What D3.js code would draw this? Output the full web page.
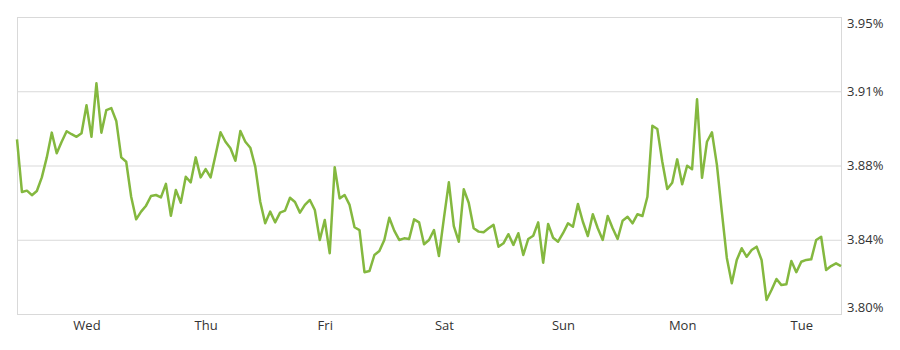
<!DOCTYPE html>
<html>
<head>
<meta charset="utf-8">
<script src="https://cdn.jsdelivr.net/npm/d3@7"></script>
<style>
  body { margin: 0; background: #fff; }
  text { font-family: "Open Sans", sans-serif; }
</style>
</head>
<body>
<div id="chart"></div>
<script>
// hourly readings, first point is 22:00 the day before "Wed"
var rates = [
  3.8882, 3.8616, 3.8623, 3.8600, 3.8621, 3.8690, 3.8791, 3.8916, 3.8812, 3.8870,
  3.8923, 3.8908, 3.8895, 3.8913, 3.9054, 3.8895, 3.9165, 3.8916, 3.9030, 3.9040,
  3.8975, 3.8791, 3.8769, 3.8592, 3.8478, 3.8517, 3.8547, 3.8596, 3.8601, 3.8589,
  3.8657, 3.8496, 3.8626, 3.8562, 3.8693, 3.8665, 3.8791, 3.8690, 3.8732, 3.8690,
  3.8803, 3.8918, 3.8870, 3.8837, 3.8774, 3.8924, 3.8870, 3.8840, 3.8744, 3.8567,
  3.8458, 3.8517, 3.8463, 3.8512, 3.8522, 3.8587, 3.8566, 3.8512, 3.8551, 3.8576,
  3.8525, 3.8374, 3.8475, 3.8307, 3.8741, 3.8584, 3.8601, 3.8551, 3.8438, 3.8424,
  3.8211, 3.8217, 3.8298, 3.8318, 3.8374, 3.8486, 3.8421, 3.8374, 3.8382, 3.8379,
  3.8478, 3.8463, 3.8352, 3.8374, 3.8424, 3.8293, 3.8483, 3.8665, 3.8444, 3.8365,
  3.8630, 3.8562, 3.8433, 3.8416, 3.8413, 3.8433, 3.8450, 3.8340, 3.8357, 3.8403,
  3.8349, 3.8408, 3.8298, 3.8379, 3.8395, 3.8463, 3.8259, 3.8455, 3.8385, 3.8365,
  3.8408, 3.8458, 3.8441, 3.8556, 3.8466, 3.8394, 3.8504, 3.8433, 3.8374, 3.8495,
  3.8433, 3.8379, 3.8471, 3.8491, 3.8458, 3.8504, 3.8495, 3.8592, 3.8951, 3.8934,
  3.8769, 3.8631, 3.8663, 3.8781, 3.8655, 3.8749, 3.8731, 3.9084, 3.8688, 3.8870,
  3.8918, 3.8753, 3.8515, 3.8283, 3.8155, 3.8273, 3.8332, 3.8289, 3.8323, 3.8340,
  3.8273, 3.8071, 3.8121, 3.8177, 3.8146, 3.8150, 3.8268, 3.8211, 3.8264, 3.8273,
  3.8276, 3.8374, 3.8390, 3.8222, 3.8242, 3.8256, 3.8242
];

var dayNames = ["Wed", "Thu", "Fri", "Sat", "Sun", "Mon", "Tue"];
var dayHours = [14, 38, 62, 86, 110, 134, 158];   // noon of each day

var yTicks = [3.80, 3.8375, 3.875, 3.9125, 3.95];
var yTickLabels = ["3.80%", "3.84%", "3.88%", "3.91%", "3.95%"];

(function() {
	var width = 900;
	var height = 350;
	var margin = { top: 17, right: 59, bottom: 36, left: 17 };

	var svg = d3.select("#chart")
				.append("svg")
				.attr("width", width)
				.attr("height", height)

	var x = d3.scaleLinear()
			  .domain([0, rates.length - 1])
			  .range([margin.left, width - margin.right])

	var y = d3.scaleLinear()
			  .domain([3.80, 3.95])
			  .range([height - margin.bottom, margin.top])

	var grid = "#d9d9d9";

	// horizontal grid
	svg.append("g")
	   .selectAll("line")
	   .data(yTicks)
	   .enter()
	   .append("line")
	   .attr("x1", margin.left)
	   .attr("x2", width - margin.right)
	   .attr("y1", function(d) { return y(d) + 0.5; })
	   .attr("y2", function(d) { return y(d) + 0.5; })
	   .attr("stroke", grid)
	   .attr("stroke-width", 1)

	// side borders
	svg.append("g")
	   .selectAll("line")
	   .data([margin.left, width - margin.right])
	   .enter()
	   .append("line")
	   .attr("x1", function(d) { return d + 0.5; })
	   .attr("x2", function(d) { return d + 0.5; })
	   .attr("y1", y(3.95))
	   .attr("y2", y(3.80) + 1)
	   .attr("stroke", grid)

	var yAxis = d3.axisRight(y)
				  .tickValues(yTicks)
				  .tickFormat(function(d, i) { return yTickLabels[i]; })
				  .tickSize(0)
				  .tickPadding(6);

	var ya = svg.append("g")
				.attr("transform", "translate(" + (width - margin.right) + ",0)")
				.call(yAxis)
	ya.select(".domain").remove();
	ya.selectAll("text")
	  .attr("fill", "#333")
	  .style("font-size", "13px")
	  .attr("y", function(d, i) {
	  	if (i === 0) return -7;
	  	if (i === yTicks.length - 1) return 6;
	  	return 0;
	  })

	var xAxis = d3.axisBottom(x)
				  .tickValues(dayHours)
				  .tickFormat(function(d, i) { return dayNames[i]; })
				  .tickSize(0)
				  .tickPadding(7);

	var xa = svg.append("g")
				.attr("transform", "translate(0," + (height - margin.bottom) + ")")
				.call(xAxis)
	xa.select(".domain").remove();
	xa.selectAll("text")
	  .attr("fill", "#333")
	  .style("font-size", "13px")

	var line = d3.line()
				 .x(function(d, i) { return x(i); })
				 .y(function(d) { return y(d); });

	svg.append("path")
	   .datum(rates)
	   .attr("d", line)
	   .attr("fill", "none")
	   .attr("stroke", "#84b83f")
	   .attr("stroke-width", 2.5)
	   .attr("stroke-linejoin", "round")

}())
</script>
</body>
</html>
